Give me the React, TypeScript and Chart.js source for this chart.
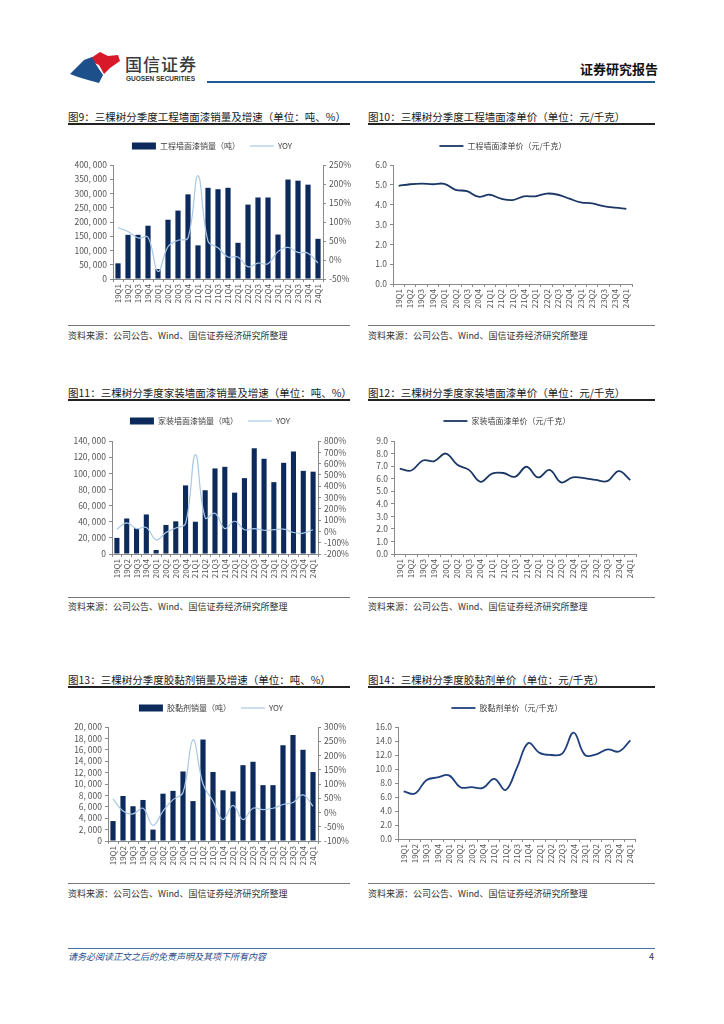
import React, { useEffect, useRef } from 'react';
import { Chart, registerables } from 'chart.js';

Chart.register(...registerables);

const FONT = "'Noto Sans CJK SC', 'DejaVu Sans', sans-serif";
Chart.defaults.font.family = FONT;

// ---------------- data ----------------
const quarters = [
  '19Q1', '19Q2', '19Q3', '19Q4', '20Q1', '20Q2', '20Q3', '20Q4',
  '21Q1', '21Q2', '21Q3', '21Q4', '22Q1', '22Q2', '22Q3', '22Q4',
  '23Q1', '23Q2', '23Q3', '23Q4', '24Q1',
];

const engSales = [55000, 155000, 155000, 187000, 35000, 208000, 240000, 297000, 118000, 320000, 315000, 320000, 127000, 261000, 286000, 286000, 156000, 349000, 345000, 331000, 141000];
const engYoy = [85, 75, 58, 60, -30, 35, 52, 58, 222, 50, 32, 8, 8, -18, -8, -10, 22, 33, 20, 18, -8];
const engPrice = [4.95, 5.03, 5.06, 5.03, 5.05, 4.75, 4.68, 4.4, 4.5, 4.3, 4.23, 4.42, 4.42, 4.56, 4.5, 4.3, 4.12, 4.06, 3.93, 3.85, 3.79];

const homeSales = [20000, 44000, 32000, 49000, 5000, 36000, 40500, 85000, 40000, 79000, 106000, 108000, 76000, 94000, 131000, 118000, 89000, 113000, 127000, 103000, 102000];
const homeYoy = [20, 75, 25, 35, -75, -10, 30, 70, 680, 120, 160, 25, 90, 15, 25, 10, 15, 20, -10, -15, 15];
const homePrice = [6.8, 6.65, 7.45, 7.4, 8.0, 7.1, 6.7, 5.75, 6.4, 6.45, 6.15, 6.95, 6.1, 6.7, 5.7, 6.1, 6.05, 5.9, 5.8, 6.6, 5.9];

const adhSales = [3500, 7900, 6100, 7200, 2000, 8300, 8800, 12200, 7000, 17800, 12100, 8900, 8700, 13300, 13900, 9800, 9800, 16800, 18600, 16000, 12100];
const adhYoy = [48, 5, -5, 15, -45, 5, 45, 70, 255, 100, 40, -25, 25, -25, 15, 10, 15, 28, 35, 62, 22];
const adhPrice = [6.8, 6.5, 8.4, 8.8, 9.1, 7.4, 7.4, 7.3, 8.6, 7.0, 10.2, 13.7, 12.3, 12.0, 12.2, 15.2, 12.0, 12.1, 12.8, 12.5, 14.1];

// axis ranges [min, max, step]
const engSalesAxis = [0, 400000, 50000];
const engYoyAxis = [-50, 250, 50];
const engPriceAxis = [0, 6, 1];
const homeSalesAxis = [0, 140000, 20000];
const homeYoyAxis = [-200, 800, 100];
const homePriceAxis = [0, 9, 1];
const adhSalesAxis = [0, 20000, 2000];
const adhYoyAxis = [-100, 300, 50];
const adhPriceAxis = [0, 16, 2];

const titles = {
  c9: '图9：三棵树分季度工程墙面漆销量及增速（单位：吨、%）',
  c10: '图10：三棵树分季度工程墙面漆单价（单位：元/千克）',
  c11: '图11：三棵树分季度家装墙面漆销量及增速（单位：吨、%）',
  c12: '图12：三棵树分季度家装墙面漆单价（单位：元/千克）',
  c13: '图13：三棵树分季度胶黏剂销量及增速（单位：吨、%）',
  c14: '图14：三棵树分季度胶黏剂单价（单位：元/千克）',
};
const sourceText = '资料来源：公司公告、Wind、国信证券经济研究所整理';

// ---------------- styles ----------------
const NAVY = '#0d2a5c';
const YOY_COLOR = '#a9c8e6';
const PRICE_COLOR = '#1b3766';
const AXIS = '#8a8a8a';
const TICK = '#555555';

const miniLegend = {
  id: 'miniLegend',
  afterDraw(chart: any, _a: any, opts: any) {
    if (!opts || opts.cx == null) return;
    const ctx = chart.ctx;
    ctx.save();
    ctx.font = `8px ${FONT}`;
    ctx.textBaseline = 'middle';
    const items = chart.data.datasets.map((ds: any) => ({
      text: ds.label,
      type: ds.type || chart.config.type,
      color: ds.type === 'bar' || (!ds.type && chart.config.type === 'bar') ? ds.backgroundColor : ds.borderColor,
      width: ds.borderWidth,
    }));
    const sw = 24, gap = 4, itemGap = 10;
    const widths = items.map((it: any) => sw + gap + ctx.measureText(it.text).width);
    const total = widths.reduce((a: number, b: number) => a + b, 0) + itemGap * (items.length - 1);
    let x = opts.cx - total / 2;
    const y = opts.cy;
    items.forEach((it: any, i: number) => {
      if (it.type === 'bar') {
        ctx.fillStyle = it.color;
        ctx.fillRect(x, y - 3.5, sw, 7);
      } else {
        ctx.strokeStyle = it.color;
        ctx.lineWidth = it.width;
        ctx.beginPath();
        ctx.moveTo(x, y);
        ctx.lineTo(x + sw, y);
        ctx.stroke();
      }
      ctx.fillStyle = '#404040';
      ctx.fillText(it.text, x + sw + gap, y);
      x += widths[i] + itemGap;
    });
    ctx.restore();
  },
};

type Geo = {
  cl: number; cr: number; ct: number;
  pl: number; pr: number; pt: number; pb: number;
  xh: number; lx: number; ly: number;
};

const fmtThousands = (v: number) => Number(v).toLocaleString('en-US').replace(/,/g, ', ');

function xScale(g: Geo) {
  return {
    type: 'category',
    offset: true,
    grid: { display: true, drawOnChartArea: false, drawTicks: true, tickLength: 3, color: AXIS, offset: true },
    border: { display: true, color: AXIS },
    ticks: { minRotation: 90, maxRotation: 90, autoSkip: false, font: { size: 8 }, color: TICK, padding: 2 },
    afterFit: (s: any) => { s.height = g.xh; },
  };
}

function yScale(pos: string, range: number[], width: number, cb: (v: number) => string) {
  return {
    position: pos,
    min: range[0],
    max: range[1],
    ticks: { stepSize: range[2], autoSkip: false, callback: (v: any) => cb(v), font: { size: 8.5 }, color: TICK, padding: 3 },
    grid: { display: true, drawOnChartArea: false, drawTicks: true, tickLength: 3, color: AXIS },
    border: { display: true, color: AXIS },
    afterFit: (s: any) => { s.width = width; },
  };
}

function dualConfig(g: Geo, label: string, sales: number[], yoy: number[], sAxis: number[], yAxis: number[]) {
  return {
    type: 'bar',
    data: {
      labels: quarters,
      datasets: [
        { type: 'bar', label, data: sales, backgroundColor: NAVY, borderWidth: 0, barPercentage: 0.52, categoryPercentage: 1, yAxisID: 'y', order: 2 },
        { type: 'line', label: 'YOY', data: yoy, borderColor: YOY_COLOR, borderWidth: 1.2, pointRadius: 0, tension: 0.4, yAxisID: 'y1', order: 1 },
      ],
    },
    options: {
      responsive: false,
      animation: false,
      layout: { padding: { top: g.pt - g.ct, left: 0, right: 0, bottom: 0 } },
      plugins: { legend: { display: false }, tooltip: { enabled: false }, miniLegend: { cx: g.lx - g.cl, cy: g.ly - g.ct } },
      scales: {
        x: xScale(g),
        y: yScale('left', sAxis, g.pl - g.cl, fmtThousands),
        y1: yScale('right', yAxis, g.cr - g.pr, (v) => `${v}%`),
      },
    },
    plugins: [miniLegend],
  };
}

function priceConfig(g: Geo, label: string, price: number[], pAxis: number[], color: string) {
  return {
    type: 'line',
    data: {
      labels: quarters,
      datasets: [
        { label, data: price, borderColor: color, borderWidth: 1.8, pointRadius: 0, tension: 0.4 },
      ],
    },
    options: {
      responsive: false,
      animation: false,
      layout: { padding: { top: g.pt - g.ct, left: 0, right: g.cr - g.pr, bottom: 0 } },
      plugins: { legend: { display: false }, tooltip: { enabled: false }, miniLegend: { cx: g.lx - g.cl, cy: g.ly - g.ct } },
      scales: {
        x: xScale(g),
        y: yScale('left', pAxis, g.pl - g.cl, (v) => Number(v).toFixed(1)),
      },
    },
    plugins: [miniLegend],
  };
}

function ChartBox({ g, config }: { g: Geo; config: any }) {
  const ref = useRef<HTMLCanvasElement>(null);
  const w = g.cr - g.cl;
  const h = g.pb - g.ct + g.xh;
  useEffect(() => {
    const chart = new Chart(ref.current as HTMLCanvasElement, config);
    return () => chart.destroy();
  }, []);
  return (
    <canvas
      ref={ref}
      width={w}
      height={h}
      style={{ position: 'absolute', left: g.cl, top: g.ct, width: w, height: h }}
    />
  );
}

const g9: Geo = { cl: 64, cr: 360, ct: 134, pl: 113, pr: 323, pt: 165, pb: 279, xh: 28, lx: 212, ly: 146 };
const g10: Geo = { cl: 368, cr: 640, ct: 134, pl: 393, pr: 632, pt: 165, pb: 284, xh: 26, lx: 503, ly: 146 };
const g11: Geo = { cl: 62, cr: 360, ct: 408, pl: 112, pr: 318, pt: 441, pb: 554, xh: 28, lx: 210, ly: 421 };
const g12: Geo = { cl: 368, cr: 642, ct: 408, pl: 394, pr: 638, pt: 441, pb: 554, xh: 28, lx: 507, ly: 421 };
const g13: Geo = { cl: 62, cr: 360, ct: 694, pl: 108, pr: 318, pt: 727, pb: 841, xh: 28, lx: 211, ly: 708 };
const g14: Geo = { cl: 368, cr: 642, ct: 694, pl: 398, pr: 638, pt: 727, pb: 839, xh: 28, lx: 507, ly: 708 };

function Text({ x, cy, size, children, style }: any) {
  return (
    <div
      style={{
        position: 'absolute', left: x, top: cy - size * 0.7, height: size * 1.4, lineHeight: `${size * 1.4}px`,
        fontSize: size, fontFamily: FONT, whiteSpace: 'nowrap', color: '#1a1a1a', ...style,
      }}
    >
      {children}
    </div>
  );
}

function HLine({ x1, x2, y, h, color }: any) {
  return <div style={{ position: 'absolute', left: x1, top: y - h / 2, width: x2 - x1, height: h, background: color }} />;
}

function Row({ yTitle, yUnder, ySrcLine, ySrc, tl, tr }: any) {
  return (
    <>
      <Text x={68} cy={yTitle} size={10.5}>{tl}</Text>
      <Text x={368} cy={yTitle} size={10.5}>{tr}</Text>
      <HLine x1={68} x2={350} y={yUnder} h={1.5} color="#222" />
      <HLine x1={368} x2={655} y={yUnder} h={1.5} color="#222" />
      <HLine x1={68} x2={350} y={ySrcLine} h={1} color="#777" />
      <HLine x1={368} x2={655} y={ySrcLine} h={1} color="#777" />
      <Text x={68} cy={ySrc} size={9} style={{ color: '#333' }}>{sourceText}</Text>
      <Text x={368} cy={ySrc} size={9} style={{ color: '#333' }}>{sourceText}</Text>
    </>
  );
}

export default function App() {
  return (
    <div style={{ position: 'absolute', left: 0, top: 0, width: 724, height: 1024, background: '#fff', overflow: 'hidden' }}>
      {/* header */}
      <svg style={{ position: 'absolute', left: 68, top: 48 }} width={54} height={40} viewBox="0 0 54 40">
        <polygon points="20,12 32,4 40,8 50,7 52,13 42,20 36,26 31,17" fill="#d7192a" />
        <polygon points="2,26 16,12 24,9 29,18 35,27 31,35 20,32 10,29" fill="#1d4f8a" />
      </svg>
      <Text x={125} cy={64} size={17} style={{ color: '#3a3a3a', fontWeight: 500, letterSpacing: 1 }}>国信证券</Text>
      <Text x={126} cy={79} size={6.5} style={{ color: '#333', fontWeight: 700, fontFamily: "'Liberation Sans', sans-serif" }}>GUOSEN SECURITIES</Text>
      <Text x={580} cy={69} size={13} style={{ fontWeight: 700, color: '#111' }}>证券研究报告</Text>
      <HLine x1={207} x2={655} y={82} h={2.2} color="#1f5b95" />

      <Row yTitle={117} yUnder={124} ySrcLine={325} ySrc={336} tl={titles.c9} tr={titles.c10} />
      <Row yTitle={393} yUnder={400} ySrcLine={597} ySrc={607} tl={titles.c11} tr={titles.c12} />
      <Row yTitle={680} yUnder={687} ySrcLine={883} ySrc={894} tl={titles.c13} tr={titles.c14} />

      <ChartBox g={g9} config={dualConfig(g9, '工程墙面漆销量（吨）', engSales, engYoy, engSalesAxis, engYoyAxis)} />
      <ChartBox g={g10} config={priceConfig(g10, '工程墙面漆单价（元/千克）', engPrice, engPriceAxis, PRICE_COLOR)} />
      <ChartBox g={g11} config={dualConfig(g11, '家装墙面漆销量（吨）', homeSales, homeYoy, homeSalesAxis, homeYoyAxis)} />
      <ChartBox g={g12} config={priceConfig(g12, '家装墙面漆单价（元/千克）', homePrice, homePriceAxis, PRICE_COLOR)} />
      <ChartBox g={g13} config={dualConfig(g13, '胶黏剂销量（吨）', adhSales, adhYoy, adhSalesAxis, adhYoyAxis)} />
      <ChartBox g={g14} config={priceConfig(g14, '胶黏剂单价（元/千克）', adhPrice, adhPriceAxis, '#1f3f7c')} />

      {/* footer */}
      <HLine x1={68} x2={655} y={948} h={1} color="#4a72a0" />
      <Text x={68} cy={957} size={9} style={{ color: '#1f4e8c', fontStyle: 'italic' }}>请务必阅读正文之后的免责声明及其项下所有内容</Text>
      <Text x={649} cy={957} size={9} style={{ color: '#333' }}>4</Text>
    </div>
  );
}
